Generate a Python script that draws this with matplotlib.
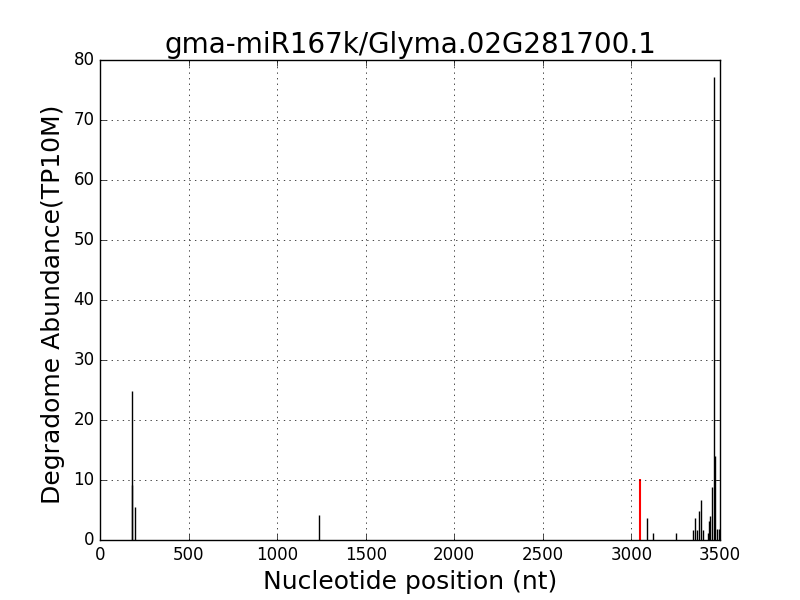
import matplotlib
matplotlib.use("Agg")
import matplotlib.pyplot as plt

# degradome reads (position, abundance)
positions = [181, 183, 199, 1238, 3087, 3119, 3252, 3350, 3360, 3369, 3382, 3393,
             3403, 3431, 3439, 3446, 3454, 3464, 3473, 3484, 3494]
abundance = [24.8, 9.2, 5.5, 4.2, 3.6, 1.1, 1.1, 1.7, 3.6, 1.6, 4.8, 6.6,
             1.7, 1.1, 3.1, 4.0, 8.9, 77.1, 14.0, 1.8, 1.8]
# cleavage site
site_pos = 3050
site_val = 10.2

plt.style.use("classic")
fig, ax = plt.subplots(figsize=(8, 6), dpi=100)
ax.vlines(positions, 0, abundance, colors="black", linewidth=1)
ax.vlines([site_pos], 0, [site_val], colors="red", linewidth=1.5)
ax.set_xlim(0, 3500)
ax.set_ylim(0, 80)
ax.grid(True)
ax.set_title("gma-miR167k/Glyma.02G281700.1", fontsize=20)
ax.set_xlabel("Nucleotide position (nt)", fontsize=18)
ax.set_ylabel("Degradome Abundance(TP10M)", fontsize=18)
ax.yaxis.set_label_coords(-0.057, 0.49)
ax.tick_params(labelsize=12)
fig.savefig("out.png", dpi=100)
